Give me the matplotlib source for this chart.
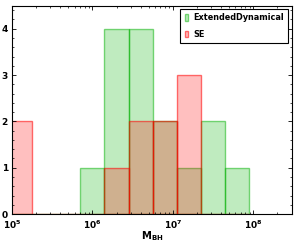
import numpy as np
import matplotlib
matplotlib.use("Agg")
import matplotlib.pyplot as plt
from matplotlib.ticker import LogLocator, MultipleLocator, FixedLocator, FuncFormatter

# log10 bin edges
log_edges = [4.95, 5.25, 5.55, 5.85, 6.15, 6.45, 6.75, 7.05, 7.35, 7.65, 7.95]
ext_dyn_counts = [0, 0, 0, 1, 4, 4, 2, 1, 2, 1]
se_counts = [2, 0, 0, 0, 1, 2, 2, 3, 0, 0]
labels = ["ExtendedDynamical", "SE"]

plt.rcParams['font.family'] = ['DejaVu Sans']
plt.rcParams['mathtext.default'] = 'bf'

fig = plt.figure(figsize=(3.0, 2.43), dpi=100)
ax = fig.add_axes([0.04, 0.119, 0.932, 0.858])

edges = 10 ** np.array(log_edges)
left = edges[:-1]
width = edges[1:] - edges[:-1]

green = (0.0, 0.69, 0.0)
red = (1.0, 0.0, 0.0)

ax.bar(left, ext_dyn_counts, width=width, align='edge',
       facecolor=green + (0.25,), edgecolor=green + (0.5,), linewidth=1.0,
       label=labels[0])
ax.bar(left, se_counts, width=width, align='edge',
       facecolor=red + (0.25,), edgecolor=red + (0.55,), linewidth=1.0,
       label=labels[1])

ax.set_xscale('log')
ax.set_xlim(1e5, 3e8)
ax.set_ylim(0, 4.5)

ax.xaxis.set_major_locator(FixedLocator([1e5, 1e6, 1e7, 1e8]))
ax.xaxis.set_minor_locator(LogLocator(base=10, subs=np.arange(2, 10), numticks=20))
ax.xaxis.set_major_formatter(FuncFormatter(lambda v, p: r'$\mathbf{10^{%d}}$' % round(np.log10(v))))
ax.yaxis.set_major_locator(MultipleLocator(1))
ax.yaxis.set_minor_locator(MultipleLocator(0.2))

ax.tick_params(which='both', direction='in', top=True, right=True, labelsize=6.5)
ax.tick_params(axis='x', which='major', pad=3.2)
ax.tick_params(axis='y', which='major', pad=3)
ax.tick_params(which='major', length=3, width=0.6)
ax.tick_params(which='minor', length=1.6, width=0.5)
for lab in ax.get_yticklabels():
    lab.set_fontweight('bold')
for s in ax.spines.values():
    s.set_linewidth(0.8)

ax.set_xlabel(r'$\mathbf{M}_{\mathbf{BH}}$', fontsize=7.2)
ax.xaxis.set_label_coords(0.5, -0.072)

leg = ax.legend(loc='upper right', frameon=True, fancybox=False,
                edgecolor='black', framealpha=1, handlelength=0.45, handleheight=0.9,
                handletextpad=0.6, borderpad=0.5, labelspacing=0.9, borderaxespad=0.45,
                prop={'weight': 'bold', 'size': 5.9})
leg.get_frame().set_linewidth(0.8)

fig.savefig('out.png', dpi=100)
